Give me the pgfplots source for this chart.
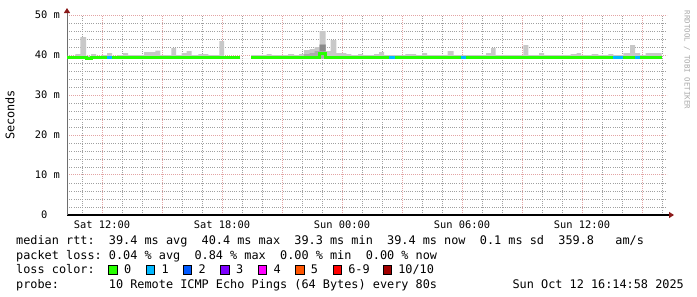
\documentclass[border=0pt]{standalone}
\usepackage{pgfplots}
\pgfplotsset{compat=1.18}
\usepackage{fontspec}
\setmainfont{DejaVu Sans Mono}
\usetikzlibrary{arrows.meta}
\definecolor{lc0}{HTML}{26FF00}
\definecolor{lc1}{HTML}{00B8FF}
\definecolor{lc2}{HTML}{0059FF}
\definecolor{lc3}{HTML}{7E00FF}
\definecolor{lc4}{HTML}{FF00FF}
\definecolor{lc5}{HTML}{FF5500}
\definecolor{lc6}{HTML}{FF0000}
\definecolor{lc10}{HTML}{A10000}
\definecolor{smoke}{HTML}{C8C8C8}
\definecolor{smoketwo}{HTML}{ABABAB}
\definecolor{smokethree}{HTML}{8A8A8A}
\definecolor{mgrid}{HTML}{E3A4A4}
\definecolor{ngrid}{HTML}{A0A0A0}
\definecolor{arrowred}{HTML}{8B1A1A}
\definecolor{ygray}{HTML}{6E6E6E}
\definecolor{wmark}{HTML}{A8A8A8}
\newcommand{\legfont}{\fontsize{11.85bp}{14bp}\selectfont}
\newcommand{\axfont}{\fontsize{10.37bp}{12bp}\selectfont}
\frenchspacing
\begin{document}
\begin{tikzpicture}
\useasboundingbox (0,0) rectangle (697bp,297bp);
\begin{axis}[
  at={(67bp,82bp)}, anchor=south west,
  scale only axis, width=600bp, height=200bp,
  xmin=10.25, xmax=40.25, ymin=0, ymax=50,
  axis x line=bottom, axis y line=left,
  x axis line style={line width=1.4bp, black, -{Triangle[color=arrowred,length=5bp,width=6bp]}, shorten >=-7bp},
  y axis line style={line width=1bp, ygray, -{Triangle[color=arrowred,length=5bp,width=6bp]}, shorten >=-7bp},
  xtick={12,15,...,39},
  xticklabels={Sat 12:00,,Sat 18:00,,Sun 00:00,,Sun 06:00,,Sun 12:00,{}},
  minor xtick={11,13,14,16,17,19,20,22,23,25,26,28,29,31,32,34,35,37,38,40},
  ytick={0,10,...,50},
  yticklabels={0\phantom{~m},10~m,20~m,30~m,40~m,50~m},
  minor ytick={2,4,6,8,12,14,16,18,22,24,26,28,32,34,36,38,42,44,46,48},
  grid=both,
  major grid style={mgrid, line width=1bp, dash pattern=on 1bp off 1bp},
  minor grid style={ngrid, line width=0.9bp, dash pattern=on 1bp off 1.2bp},
  major tick length=0pt, minor tick length=0pt,
  tick style={draw=none},
  tick label style={font=\axfont, inner sep=0pt},
  xticklabel style={anchor=north, yshift=-6bp},
  yticklabel style={anchor=east, xshift=-7bp},
  ylabel={Seconds},
  every axis y label/.style={at={(axis description cs:0,0.5)}, xshift=-57bp, rotate=90, anchor=center, font=\legfont},
  /pgf/number format/assume math mode=true,
]
% smoke (min..max band per step)
\addplot[const plot, fill=smoke, draw=none] coordinates {
(10.25,39.1) (10.25,39.8) (10.665,40.25) (10.915,44.5) (11.2,39.8) (11.45,40.25) (11.7,39.8) (11.95,40.0) (12.25,40.5) (12.5,39.8) (12.785,40.0) (13.05,40.5) (13.3,40.0) (14.1,40.75) (14.665,41.1) (14.915,40.0) (15.465,41.75) (15.7,40.0) (15.985,40.5) (16.235,41.0) (16.485,40.0) (16.815,40.25) (17.315,40.0) (17.865,43.5) (18.1,39.6) (18.9,39.1) (19.45,40.0) (20.235,40.25) (20.485,40.0) (21.3,40.25) (21.6,40.0) (21.85,40.25) (22.1,41.25) (22.385,41.5) (22.635,42.0) (22.885,46.0) (23.185,41.0) (23.435,43.75) (23.715,40.5) (24.215,40.25) (24.465,40.0) (24.8,40.25) (25.05,40.0) (25.6,40.25) (25.85,40.75) (26.1,40.0) (27.165,40.25) (27.7,40.0) (28.0,40.5) (28.25,40.0) (29.285,41.0) (29.585,40.0) (31.2,40.5) (31.45,41.75) (31.685,40.0) (33.065,42.5) (33.315,40.0) (33.85,40.5) (34.1,40.0) (35.435,40.25) (35.735,40.5) (35.95,40.0) (36.485,40.25) (36.815,40.0) (37.315,40.25) (37.565,40.0) (38.065,40.5) (38.4,42.5) (38.65,40.5) (38.9,40.0) (39.185,40.5) (39.985,39.1)
};
\addplot[const plot, fill=smoketwo, draw=none] coordinates {
(22.1,39.1) (22.1,40.2) (22.385,40.5) (22.635,41.0) (22.885,42.75) (23.185,39.1)
};
\addplot[const plot, fill=smokethree, draw=none] coordinates {
(22.885,41.0) (22.885,42.5) (23.185,41.0)
};
% median rtt, coloured by loss
\addplot[const plot, lc0, line width=3bp] coordinates {
(10.25,39.4) (11.2,39.25) (11.45,39.4) (12.5,39.3) (12.785,39.4) (18.1,39.3) (18.9,39.3)
};
\addplot[const plot, lc0, line width=3bp] coordinates {
(19.45,39.4) (22.885,40.4) (23.185,39.4) (39.985,39.4)
};
\addplot[lc1, line width=3bp] coordinates {(12.25,39.4) (12.5,39.4)};
\addplot[lc1, line width=3bp] coordinates {(26.365,39.4) (26.665,39.4)};
\addplot[lc1, line width=3bp] coordinates {(29.935,39.4) (30.215,39.4)};
\addplot[lc1, line width=3bp] coordinates {(37.565,39.4) (38.065,39.4)};
\addplot[lc1, line width=3bp] coordinates {(38.65,39.4) (38.9,39.4)};
\end{axis}
% watermark
\node[rotate=-90, anchor=center, inner sep=0pt, text=wmark, font=\fontsize{7.4bp}{8bp}\selectfont] at (687bp,237bp) {RRDTOOL / TOBI OETIKER};
% legend
\node[anchor=base west, inner sep=0pt, font=\legfont] at (16bp,52bp) {median~rtt:~~39.4~ms~avg~~40.4~ms~max~~39.3~ms~min~~39.4~ms~now~~0.1~ms~sd~~359.8~~~am/s};
\node[anchor=base west, inner sep=0pt, font=\legfont] at (16bp,37.5bp) {packet~loss:~0.04~\%~avg~~0.84~\%~max~~0.00~\%~min~~0.00~\%~now};
\node[anchor=base west, inner sep=0pt, font=\legfont] at (16bp,23.5bp) {loss~color:};
\foreach \x/\c/\t in {108.6/lc0/0, 146.1/lc1/1, 183.2/lc2/2, 220.7/lc3/3, 258.3/lc4/4, 295.4/lc5/5, 332.9/lc6/6-9, 382.9/lc10/10\slash10}{
  \draw[fill=\c, line width=0.8bp] (\x bp,22.5bp) rectangle ++(8.5bp,9bp);
  \node[anchor=base west, inner sep=0pt, font=\legfont] at ({\x bp+15.2bp},23.5bp) {\t};
}
\node[anchor=base west, inner sep=0pt, font=\legfont] at (16bp,9bp) {probe:~~~~~~~10~Remote~ICMP~Echo~Pings~(64~Bytes)~every~80s};
\node[anchor=base east, inner sep=0pt, font=\legfont] at (684bp,9bp) {Sun~Oct~12~16:14:58~2025};
\end{tikzpicture}
\end{document}
